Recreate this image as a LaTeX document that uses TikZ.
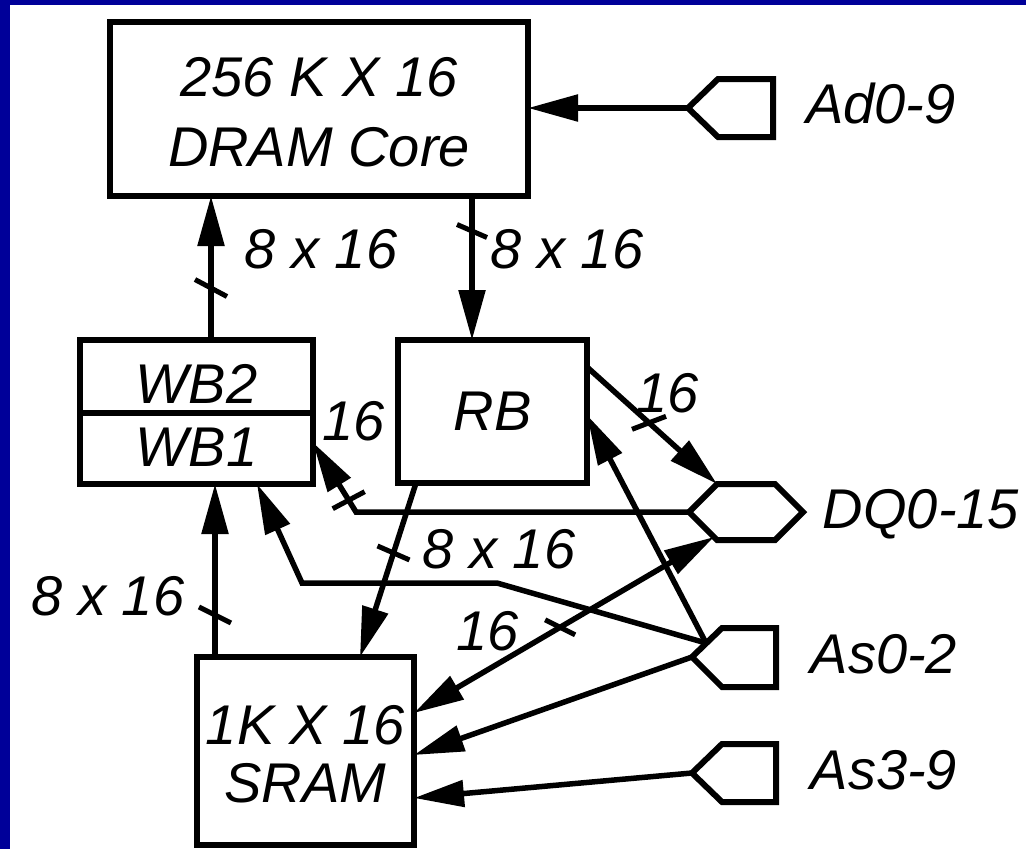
\documentclass[tikz,border=0pt]{standalone}
\usepackage{fontspec}
\setmainfont{Liberation Sans}
\usetikzlibrary{arrows.meta}
\definecolor{bordblue}{RGB}{0,0,153}
\begin{document}
\begin{tikzpicture}[x=1pt,y=-1pt,
  >={Triangle[length=50pt,width=26pt]},
  box/.style={draw, line width=6pt, inner sep=0pt, outer sep=0pt, align=center,
    font=\fontsize{56}{70}\selectfont\itshape},
  conn/.style={line width=5.5pt, line join=miter},
  tickst/.style={line width=5pt},
  lbl/.style={anchor=base, inner sep=0pt, font=\fontsize{56}{70}\selectfont\itshape},
  port/.style={line width=6pt, line join=miter}
]
\useasboundingbox (0,0) rectangle (1026,849);
\fill[white] (0,0) rectangle (1026,849);
\fill[bordblue] (0,0) rectangle (1026,5);
\fill[bordblue] (0,0) rectangle (10,849);

% blocks
\node[box, minimum width=418pt, minimum height=174pt] (dram) at (319,109)
  {\rule{0pt}{46pt}256 K X 16\\DRAM Core};
\node[box, minimum width=233pt, minimum height=73pt] (wb2) at (196.5,376.5)
  {\rule{0pt}{53pt}WB2};
\node[box, minimum width=233pt, minimum height=71pt] (wb1) at (196.5,448.5)
  {WB1\rule[-3pt]{0pt}{3pt}};
\node[box, minimum width=189pt, minimum height=143pt] (rb) at (492.5,411.5) {RB};
\node[box, minimum width=217pt, minimum height=188pt,
  font=\fontsize{56}{58}\selectfont\itshape] (sram) at (305.5,751)
  {\rule{0pt}{46pt}1K X 16\\SRAM};

% ports
\coordinate (adp) at (688,108);
\coordinate (dqp) at (689,512);
\coordinate (asa) at (692,657);
\coordinate (asb) at (692,773);
\draw[port] (adp) -- ++(30,-29) -- ++(55,0) -- ++(0,58) -- ++(-55,0) -- cycle;
\draw[port] (dqp) -- ++(28,-28) -- ++(58,0) -- ++(28,28) -- ++(-28,28) -- ++(-58,0) -- cycle;
\draw[port] (asa) -- ++(30,-29) -- ++(54,0) -- ++(0,59) -- ++(-54,0) -- cycle;
\draw[port] (asb) -- ++(30,-29) -- ++(54,0) -- ++(0,58) -- ++(-54,0) -- cycle;
\coordinate (dqul) at ([shift={(28,-28)}]dqp);
\coordinate (dqll) at ([shift={(25,25)}]dqp);
\coordinate (asau) at ([shift={(14,-14)}]asa);
\coordinate (k5) at (356,512);
\coordinate (k6a) at (497,583);
\coordinate (k6b) at (302,583);

% connectors
\draw[conn,->] ([shift={(14.5,0)}]wb2.north) -- coordinate[pos=0.361] (t1) ([shift={(-108,0)}]dram.south);
\draw[conn,->] ([shift={(153,0)}]dram.south) -- coordinate[pos=0.243] (t2) ([shift={(-20.5,0)}]rb.north);
\draw[conn,->] (adp) -- (dram.east |- adp);
\draw[conn,->] ([shift={(0,27)}]rb.north east) -- coordinate[pos=0.477] (t4) (dqul);
\draw[conn,->] (dqp) -- (k5) -- coordinate[pos=0.17] (t5) ([shift={(0,-6)}]wb1.east);
\draw[conn,->] (asau) -- (k6a) -- (k6b) -- ([shift={(60.5,0)}]wb1.south);
\draw[conn,->] (asau) -- ([shift={(0,3.5)}]rb.east);
\draw[conn,->] (asa) -- ([shift={(0,4)}]sram.east);
\draw[conn,->] (asb) -- ([shift={(0,47)}]sram.east);
\draw[conn,<->] (dqll) -- coordinate[pos=0.513] (t10) ([shift={(0,-38)}]sram.east);
\draw[conn,->] ([shift={(-76.5,0)}]rb.south) -- coordinate[pos=0.402] (t11) ([shift={(54.5,0)}]sram.north);
\draw[conn,->] ([shift={(-90.5,0)}]sram.north) -- coordinate[pos=0.243] (t12) ([shift={(18.5,0)}]wb1.south);

% bus ticks
\draw[tickst] ([shift={(-16,-8.5)}]t1) -- ([shift={(16,8.5)}]t1);
\draw[tickst] ([shift={(-15,-6.5)}]t2) -- ([shift={(15,6.5)}]t2);
\draw[tickst] ([shift={(-17,6.5)}]t4) -- ([shift={(17,-6.5)}]t4);
\draw[tickst] ([shift={(-16,8.5)}]t5) -- ([shift={(16,-8.5)}]t5);
\draw[tickst] ([shift={(-15,-7.5)}]t10) -- ([shift={(15,7.5)}]t10);
\draw[tickst] ([shift={(-16,-7)}]t11) -- ([shift={(16,7)}]t11);
\draw[tickst] ([shift={(-16,-8)}]t12) -- ([shift={(16,8)}]t12);

% labels
\node[lbl] (l1) at (321,268) {8 x 16};
\node[lbl] (l2) at (567,268) {8 x 16};
\node[lbl] (lad) at (881,123) {Ad0-9};
\node[lbl] (l3) at (354,440) {16};
\node[lbl] (l4) at (668,412) {16};
\node[lbl] (ldq) at (921,528) {DQ0-15};
\node[lbl] (l5) at (499,568) {8 x 16};
\node[lbl] (l6) at (108,615) {8 x 16};
\node[lbl] (l7) at (488,650) {16};
\node[lbl] (las) at (884,673) {As0-2};
\node[lbl] (lat) at (884,789) {As3-9};
\end{tikzpicture}
\end{document}
